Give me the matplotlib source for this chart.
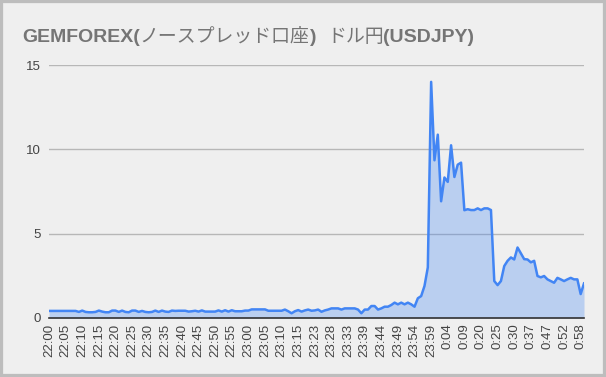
import matplotlib
matplotlib.use("Agg")
import matplotlib.pyplot as plt
from matplotlib.patches import Rectangle
import numpy as np

title_parts = ["GEMFOREX(", "ノースプレッド口座", ")  ", "ドル円", "(USDJPY)"]

tick_labels = ["22:00", "22:05", "22:10", "22:15", "22:20", "22:25", "22:30", "22:35",
               "22:40", "22:45", "22:50", "22:55", "23:00", "23:05", "23:10", "23:15",
               "23:23", "23:28", "23:33", "23:39", "23:44", "23:49", "23:54", "23:59",
               "0:04", "0:09", "0:20", "0:25", "0:30", "0:37", "0:47", "0:52", "0:58"]
label_step = 5

spread_early = [0.42, 0.42, 0.42, 0.42, 0.42, 0.42, 0.42, 0.42, 0.42, 0.36,
                0.44, 0.36, 0.34, 0.34, 0.36, 0.44, 0.38, 0.34, 0.34, 0.44,
                0.44, 0.36, 0.44, 0.36, 0.34, 0.44, 0.44, 0.36, 0.42, 0.36,
                0.34, 0.36, 0.44, 0.36, 0.44, 0.38, 0.36, 0.44, 0.42, 0.43,
                0.43, 0.43, 0.38, 0.40, 0.43, 0.38, 0.45, 0.38, 0.38, 0.38,
                0.38, 0.45, 0.38, 0.46, 0.38, 0.46, 0.40, 0.40, 0.40, 0.44,
                0.44, 0.51, 0.51, 0.51, 0.51, 0.51, 0.43, 0.43, 0.43, 0.43,
                0.43, 0.50, 0.40, 0.28, 0.40, 0.47, 0.38, 0.45, 0.50, 0.43,
                0.45, 0.50, 0.37, 0.45, 0.50, 0.57, 0.57, 0.57, 0.50, 0.57,
                0.57, 0.57, 0.57, 0.50, 0.28, 0.50, 0.50, 0.71, 0.71, 0.50,
                0.57, 0.67, 0.67, 0.77, 0.91, 0.81, 0.91, 0.81, 0.91, 0.81,
                0.67, 1.17, 1.30, 1.90, 3.00]
spread_late = [14.0, 9.35, 10.87, 6.92, 8.33, 8.07, 10.24, 8.36, 9.09, 9.21,
               6.39, 6.45, 6.40, 6.40, 6.50, 6.40, 6.50, 6.50, 6.40, 2.19,
               1.95, 2.19, 3.08, 3.39, 3.59, 3.47, 4.18, 3.83, 3.49, 3.47,
               3.30, 3.39, 2.49, 2.41, 2.49, 2.29, 2.19, 2.09, 2.38, 2.29,
               2.19, 2.29, 2.38, 2.29, 2.29, 1.42, 2.05]
spread = np.array(spread_early + spread_late)
x = np.arange(len(spread))

W, H = 606, 377
fig = plt.figure(figsize=(W / 100, H / 100), dpi=100)
fig.patch.set_facecolor("#efefef")
fig.patches.append(Rectangle((0, 0), 1, 1, transform=fig.transFigure,
                             fill=False, edgecolor="#bdbdbd", linewidth=4.5))

left, right, top, bottom = 49, 584, 65, 318
ax = fig.add_axes([left / W, 1 - bottom / H, (right - left) / W, (bottom - top) / H])
ax.set_facecolor("#efefef")

ax.fill_between(x, spread, 0, color="#4285f4", alpha=0.3, linewidth=0)
ax.plot(x, spread, color="#4285f4", linewidth=1.8, solid_joinstyle="round")

ax.set_xlim(0, len(spread) - 1)
ax.set_ylim(0, 15)
ax.set_yticks([0, 5, 10, 15])
ax.set_yticklabels(["0", "5", "10", "15"])
ax.yaxis.grid(True, color="#b7b7b7", linewidth=1)
ax.set_axisbelow(True)

ticks = np.arange(0, len(tick_labels) * label_step, label_step)
ax.set_xticks(ticks)
ax.set_xticklabels(tick_labels, rotation=90)

for s in ["top", "right", "left"]:
    ax.spines[s].set_visible(False)
ax.spines["bottom"].set_color("#333333")
ax.spines["bottom"].set_linewidth(1.2)
ax.spines["bottom"].set_zorder(5)
ax.tick_params(axis="both", length=0, labelsize=9.5, labelcolor="#444444")
ax.tick_params(axis="y", pad=6)
ax.tick_params(axis="x", pad=4)
for lab in ax.get_xticklabels() + ax.get_yticklabels():
    lab.set_fontfamily("Liberation Sans")

# title drawn in segments: Latin bold, Japanese regular
fig.canvas.draw()
renderer = fig.canvas.get_renderer()
xpos = 22.0
for part in title_parts:
    is_cjk = any(ord(c) > 0x2E80 for c in part)
    t = fig.text(xpos / W, 1 - 42 / H, part, fontsize=13.6 if is_cjk else 14,
                 fontweight="normal" if is_cjk else "bold", color="#757575",
                 family=["Noto Sans CJK JP"] if is_cjk else ["Liberation Sans", "DejaVu Sans"],
                 ha="left", va="baseline")
    bb = t.get_window_extent(renderer=renderer)
    xpos += bb.width

fig.savefig("out.png", dpi=100, facecolor=fig.get_facecolor())
